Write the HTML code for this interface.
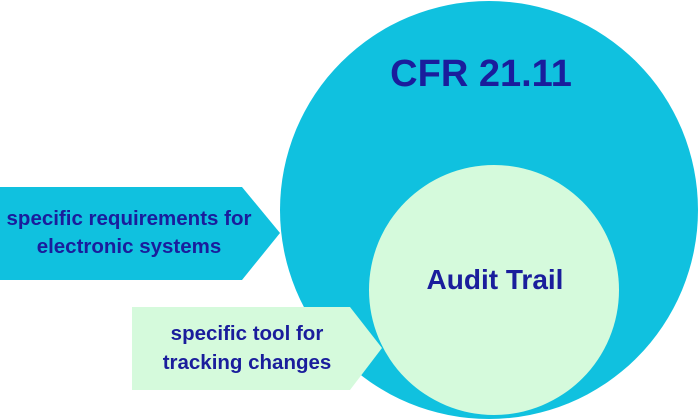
<!DOCTYPE html>
<html><head><style>
html,body{margin:0;padding:0;background:#fff;}
svg{display:block;}
text{font-family:"Liberation Sans",sans-serif;font-weight:bold;fill:#1a1d9c;}
</style></head><body>
<svg width="700" height="420" viewBox="0 0 700 420">
<circle cx="489" cy="210" r="209" fill="#10c1df"/>
<circle cx="494" cy="290" r="125" fill="#d5fadc"/>
<polygon points="0,187 242,187 280,233 242,280 0,280" fill="#10c1df"/>
<polygon points="132,307 350,307 382,348 350,390 132,390" fill="#d5fadc"/>
<text x="481" y="86" font-size="38" text-anchor="middle">CFR 21.11</text>
<text x="495" y="289" font-size="28" text-anchor="middle">Audit Trail</text>
<text x="129" y="225" font-size="20.5" text-anchor="middle">specific requirements for</text>
<text x="129" y="253" font-size="20.5" text-anchor="middle">electronic systems</text>
<text x="247" y="340" font-size="20.5" text-anchor="middle">specific tool for</text>
<text x="247" y="369" font-size="20.5" text-anchor="middle">tracking changes</text>
</svg>
</body></html>
